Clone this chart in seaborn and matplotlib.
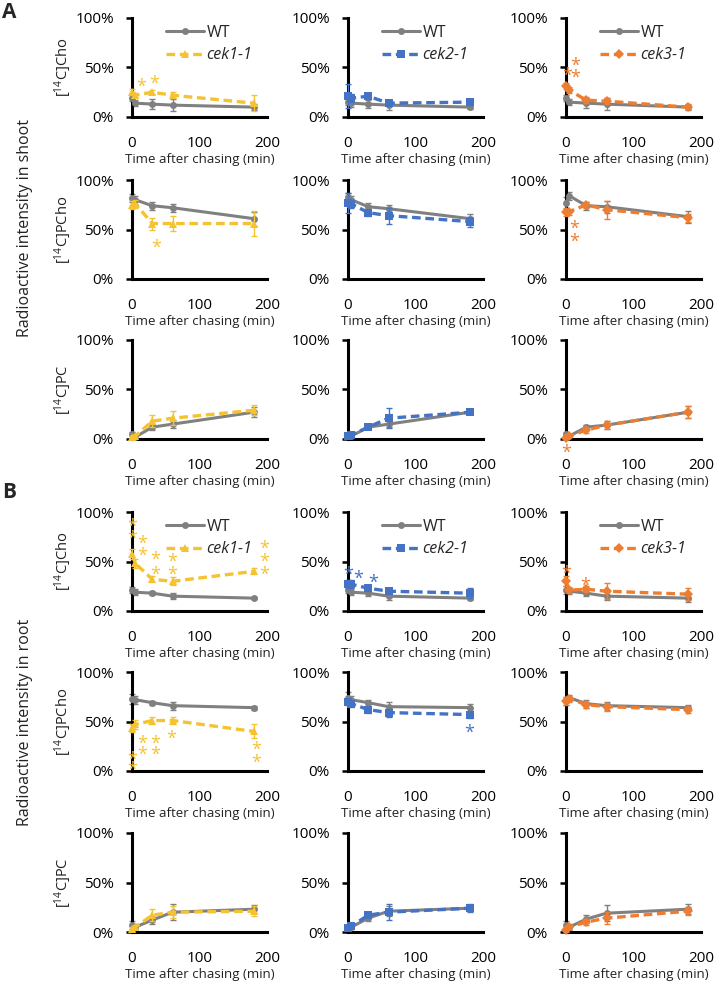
import matplotlib
matplotlib.use("Agg")
import matplotlib.pyplot as plt
import matplotlib.transforms as mtransforms
import numpy as np
import pandas as pd
import seaborn as sns

sns.set_theme(style="white")
plt.rcParams["font.family"] = ["Open Sans", "DejaVu Sans"]
plt.rcParams["mathtext.fontset"] = "custom"
plt.rcParams["mathtext.rm"] = "Open Sans"
plt.rcParams["mathtext.it"] = "Open Sans:italic"

# ---------------- data ----------------
time = [0, 5, 30, 60, 180]
mutants = ["cek1-1", "cek2-1", "cek3-1"]
row_labels = ["Cho", "PCho", "PC"]
xticks = [0, 100, 200]
yticks = [0, 0.5, 1.0]
ytick_labels = ["0%", "50%", "100%"]

# Shoot (A) -- means (%)
shoot_cho_wt = [[19, 14, 13, 12, 10], [15, 14, 13, 12, 10], [19, 15, 14, 13, 10]]
shoot_cho_mut = [[25, 22, 25, 22, 14], [21, 19, 21, 14, 15], [31, 27, 17, 16, 10]]
shoot_pcho_wt = [[82, 80, 74, 72, 61], [83, 80, 73, 71, 61], [77, 84, 74, 73, 63]]
shoot_pcho_mut = [[75, 76, 56, 56, 56], [77, 76, 67, 64, 58], [68, 68, 75, 70, 62]]
shoot_pc_wt = [[5, 2, 12, 15, 27], [3, 3, 12, 15, 27], [5, 3, 12, 14, 27]]
shoot_pc_mut = [[2, 3, 18, 21, 29], [3, 4, 12, 21, 27], [1, 3, 9, 14, 27]]
# Shoot -- error bars (%)
shoot_cho_wt_err = [[3, 3, 5, 6, 3], [3, 4, 4, 5, 2], [3, 3, 5, 6, 3]]
shoot_cho_mut_err = [[3, 2, 2, 3, 8], [12, 4, 3, 3, 3], [3, 3, 3, 3, 2]]
shoot_pcho_wt_err = [[4, 4, 4, 4, 7], [4, 4, 4, 4, 5], [6, 4, 4, 6, 6]]
shoot_pcho_mut_err = [[4, 4, 6, 8, 13], [10, 4, 3, 8, 5], [4, 3, 3, 9, 4]]
shoot_pc_wt_err = [[2, 2, 3, 4, 5], [1, 1, 2, 3, 2], [2, 2, 2, 4, 6]]
shoot_pc_mut_err = [[1, 1, 6, 7, 5], [1, 1, 2, 10, 2], [1, 1, 3, 4, 6]]

# Root (B) -- means (%)
root_cho_wt = [[21, 19, 18, 15, 13], [21, 19, 18, 15, 13], [21, 20, 18, 15, 13]]
root_cho_mut = [[58, 48, 32, 30, 40], [27, 27, 23, 20, 18], [30, 21, 22, 20, 17]]
root_pcho_wt = [[73, 72, 69, 66, 64], [74, 72, 69, 65, 64], [71, 74, 68, 66, 64]]
root_pcho_mut = [[43, 47, 51, 51, 40], [70, 68, 62, 59, 57], [71, 73, 67, 65, 62]]
root_pc_wt = [[7, 5, 12, 20, 23], [5, 5, 14, 21, 24], [7, 5, 13, 19, 23]]
root_pc_mut = [[3, 5, 17, 20, 21], [4, 6, 17, 20, 24], [2, 5, 10, 14, 21]]
# Root -- error bars (%)
root_cho_wt_err = [[3, 3, 2, 3, 1], [3, 3, 3, 4, 2], [4, 3, 3, 4, 4]]
root_cho_mut_err = [[5, 5, 3, 4, 3], [4, 4, 3, 2, 5], [5, 3, 3, 8, 6]]
root_pcho_wt_err = [[5, 4, 2, 4, 2], [6, 4, 3, 5, 4], [4, 3, 4, 4, 3]]
root_pcho_mut_err = [[4, 5, 4, 4, 7], [3, 3, 3, 4, 3], [4, 3, 3, 4, 3]]
root_pc_wt_err = [[4, 3, 4, 8, 4], [2, 2, 3, 5, 3], [4, 3, 4, 8, 5]]
root_pc_mut_err = [[2, 2, 6, 6, 5], [2, 2, 3, 8, 4], [2, 2, 3, 6, 4]]

# significance asterisks: (time, percent) per panel
shoot_stars = [
    [[(13, 37), (33, 40)], [], [(1, 48), (14, 58), (14, 46)]],
    [[(36, 38)], [], [(12, 57), (12, 44)]],
    [[], [], [(0, -8)]],
]
root_stars = [
    [[(0, 91), (0, 79), (15, 74), (15, 62), (34, 58), (34, 43), (59, 56), (59, 43),
      (196, 69), (196, 56), (196, 43)],
     [(0, 43), (15, 39), (37, 35)],
     [(0, 44), (28, 32)]],
    [[(0, 18), (0, 7), (15, 34), (15, 23), (34, 34), (34, 23), (58, 39), (184, 28), (184, 14)],
     [(180, 45)], []],
    [[], [], []],
]

# ---------------- style ----------------
wt_color = "#808080"
mut_colors = ["#F5C232", "#4472C4", "#ED7D31"]
mut_markers = ["^", "s", "D"]
mut_msize = [6, 6, 5]
star_fs = 13

W, H = 724, 998
fig = plt.figure(figsize=(W / 100, H / 100), dpi=100)

col_left = [132, 348, 566]
ax_w = 135
row_top = [18, 180, 340, 512, 672, 833]
ax_h = 99

wt_means = [shoot_cho_wt, shoot_pcho_wt, shoot_pc_wt, root_cho_wt, root_pcho_wt, root_pc_wt]
mut_means = [shoot_cho_mut, shoot_pcho_mut, shoot_pc_mut, root_cho_mut, root_pcho_mut, root_pc_mut]
wt_errs = [shoot_cho_wt_err, shoot_pcho_wt_err, shoot_pc_wt_err,
           root_cho_wt_err, root_pcho_wt_err, root_pc_wt_err]
mut_errs = [shoot_cho_mut_err, shoot_pcho_mut_err, shoot_pc_mut_err,
            root_cho_mut_err, root_pcho_mut_err, root_pc_mut_err]
stars = shoot_stars + root_stars

for r in range(6):
    for c in range(3):
        ax = fig.add_axes([col_left[c] / W, 1 - (row_top[r] + ax_h) / H, ax_w / W, ax_h / H])
        wt = np.array(wt_means[r][c]) / 100
        mu = np.array(mut_means[r][c]) / 100
        we = np.array(wt_errs[r][c]) / 100
        me = np.array(mut_errs[r][c]) / 100
        col = mut_colors[c]

        ax.errorbar(time, wt, yerr=we, fmt="none", ecolor=wt_color, elinewidth=1.0,
                    capsize=2.5, capthick=1.0, clip_on=False, zorder=2)
        sns.lineplot(x=time, y=wt, ax=ax, color=wt_color, marker="o", markersize=5,
                     markeredgewidth=0, linewidth=2.2, clip_on=False, zorder=3)
        h_wt = ax.lines[-1]
        ax.errorbar(time, mu, yerr=me, fmt="none", ecolor=col, elinewidth=1.0,
                    capsize=2.5, capthick=1.0, clip_on=False, zorder=4)
        sns.lineplot(x=time, y=mu, ax=ax, color=col, marker=mut_markers[c],
                     markersize=mut_msize[c], markeredgewidth=0, linewidth=2.4,
                     linestyle=(0, (2.6, 1.4)), clip_on=False, zorder=5)
        h_mu = ax.lines[-1]

        star_tr = mtransforms.offset_copy(ax.transData, fig=fig, y=-0.62 * star_fs,
                                          units="points")
        for (tx, ty) in stars[r][c]:
            ax.text(tx, ty / 100, "*", color=col, fontsize=star_fs, ha="center",
                    va="baseline", transform=star_tr, clip_on=False, zorder=6)

        ax.set_xlim(0, 200)
        ax.set_ylim(0, 1.0)
        ax.set_xticks(xticks)
        ax.set_xticklabels([str(v) for v in xticks], fontsize=11)
        ax.set_yticks(yticks)
        ax.set_yticklabels(ytick_labels, fontsize=11)
        ax.tick_params(axis="x", length=0, pad=14, colors="black")
        ax.tick_params(axis="y", length=4, width=1.8, pad=9, direction="out", colors="black",
                       left=True)
        for s in ["top", "right"]:
            ax.spines[s].set_visible(False)
        for s in ["left", "bottom"]:
            ax.spines[s].set_color("black")
            ax.spines[s].set_linewidth(2.2)
        ax.set_xlabel("Time after chasing (min)", fontsize=9.5, labelpad=1, color="#222222")
        ax.set_ylabel("")
        if c == 0:
            ax.set_ylabel(r"[$^{14}$C]" + row_labels[r % 3], fontsize=10.5, color="#222222")
            ax.yaxis.set_label_coords(-0.43, 0.5)
        if r % 3 == 0:
            leg = ax.legend([h_wt, h_mu], ["WT", mutants[c]], loc="upper left",
                            bbox_to_anchor=(0.25, 0.93), frameon=False, fontsize=11.5,
                            handlelength=2.4, handletextpad=0.15, labelspacing=0.4,
                            borderpad=0, borderaxespad=0)
            leg.get_texts()[1].set_fontstyle("italic")
        ax.set_facecolor("none")

fig.text(25 / W, 1 - 228 / H, "Radioactive intensity in shoot", rotation=90, fontsize=11.5,
         ha="center", va="center", color="#222222")
fig.text(25 / W, 1 - 722 / H, "Radioactive intensity in root", rotation=90, fontsize=11.5,
         ha="center", va="center", color="#222222")
fig.text(2 / W, 1 - 12 / H, "A", fontsize=15, fontweight="bold", ha="left", va="center")
fig.text(2 / W, 1 - 492 / H, "B", fontsize=15, fontweight="bold", ha="left", va="center")

fig.savefig("out.png", dpi=100, facecolor="white")
